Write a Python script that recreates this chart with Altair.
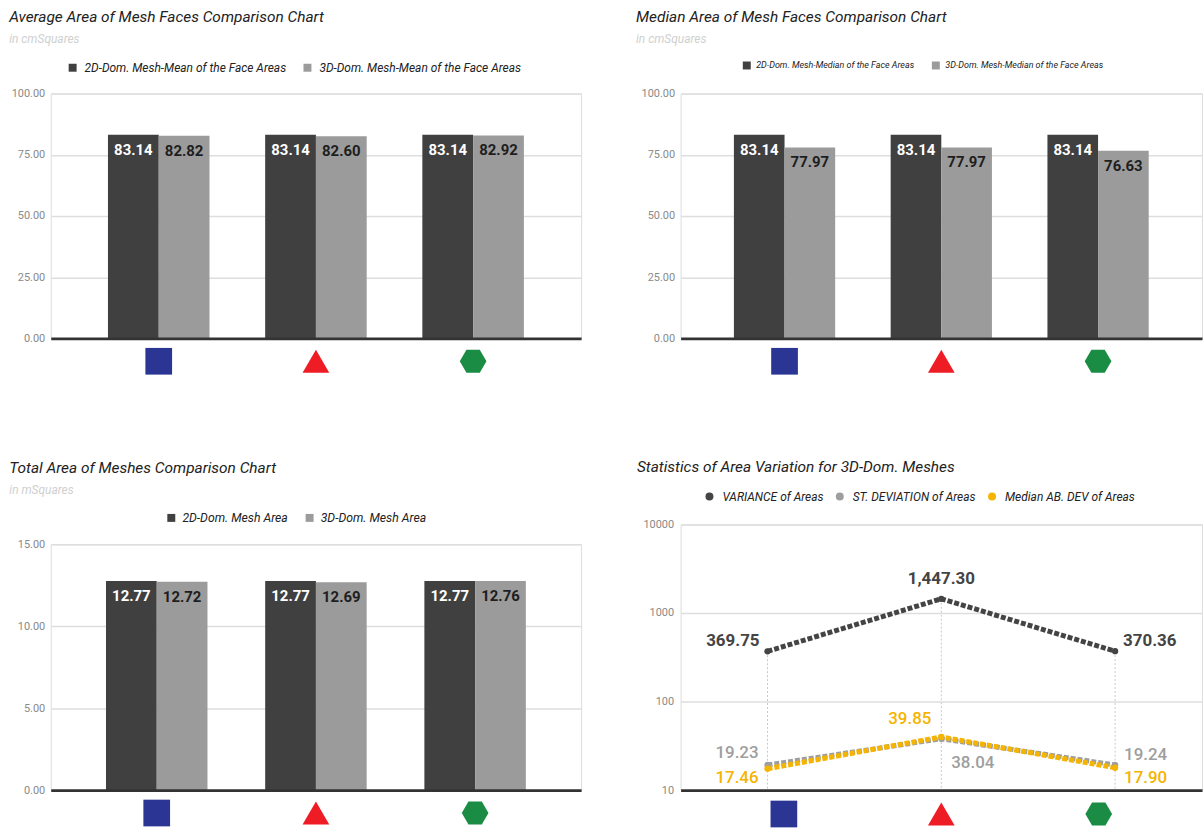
import altair as alt
import pandas as pd

# ---- data -------------------------------------------------------------
meshes = ["Square", "Triangle", "Hexagon"]

mean_series = ["2D-Dom. Mesh-Mean of the Face Areas", "3D-Dom. Mesh-Mean of the Face Areas"]
mean_2d = [83.14, 83.14, 83.14]
mean_3d = [82.82, 82.60, 82.92]

median_series = ["2D-Dom. Mesh-Median of the Face Areas", "3D-Dom. Mesh-Median of the Face Areas"]
median_2d = [83.14, 83.14, 83.14]
median_3d = [77.97, 77.97, 76.63]

area_series = ["2D-Dom. Mesh Area", "3D-Dom. Mesh Area"]
area_2d = [12.77, 12.77, 12.77]
area_3d = [12.72, 12.69, 12.76]

stat_series = ["VARIANCE of Areas", "ST. DEVIATION of Areas", "Median AB. DEV of Areas"]
variance = [369.75, 1447.30, 370.36]
st_dev = [19.23, 38.04, 19.24]
median_ab_dev = [17.46, 39.85, 17.90]

mean_ticks = [0, 25, 50, 75, 100]
area_ticks = [0, 5, 10, 15]
log_ticks = [10, 100, 1000, 10000]

# ---- styling ----------------------------------------------------------
FONT = "Roboto"
BAR_COLORS = ["#404040", "#9b9b9b"]
STAT_COLORS = ["#444444", "#9e9e9e", "#f4b400"]
MESH_COLORS = ["#2b3594", "#ee1c25", "#1b8c44"]
HEXAGON = "M-1,0L-0.5,-0.866L0.5,-0.866L1,0L0.5,0.866L-0.5,0.866Z"
GRID = "#dedede"
LABEL_GREY = "#8a8a8a"


def panel_title(text, subtitle=None, dx=0, offset=17):
    params = dict(
        text=text, anchor="start", frame="bounds", dx=dx, offset=offset,
        font=FONT, fontSize=15.5, fontStyle="italic", fontWeight="normal", color="#222222",
    )
    if subtitle:
        params.update(subtitle=subtitle, subtitleFont=FONT, subtitleFontSize=12,
                      subtitleFontStyle="italic", subtitleColor="#d0d0d0", subtitlePadding=8)
    return alt.TitleParams(**params)


def legend(x, y, size, col_pad, symbol="square", offset=6):
    return alt.Legend(
        title=None, orient="none", legendX=x, legendY=y, direction="horizontal",
        symbolType=symbol, symbolSize=64, symbolStrokeWidth=0, symbolOpacity=1,
        labelFont=FONT, labelFontSize=size, labelFontStyle="italic", labelColor="#222222",
        labelOffset=offset, columnPadding=col_pad, labelLimit=400,
    )


def mesh_markers(x_enc, y_px):
    return alt.Chart(pd.DataFrame({"mesh": meshes})).mark_point(
        filled=True, opacity=1, size=720, strokeWidth=0
    ).encode(
        x=x_enc,
        y=alt.value(y_px),
        shape=alt.Shape("mesh:N", scale=alt.Scale(domain=meshes, range=["square", "triangle-up", HEXAGON]), legend=None),
        fill=alt.Fill("mesh:N", scale=alt.Scale(domain=meshes, range=MESH_COLORS), legend=None),
    )


def bar_panel(title, series, first, second, ticks, width, height, pad_in, pad_out,
              leg_x, leg_y, leg_size, leg_pad, leg_offset):
    df = pd.DataFrame({
        "mesh": meshes * 2,
        "series": [series[0]] * 3 + [series[1]] * 3,
        "value": first + second,
    })
    x_enc = alt.X("mesh:N", sort=meshes,
                  scale=alt.Scale(paddingInner=pad_in, paddingOuter=pad_out),
                  axis=alt.Axis(title=None, labels=False, ticks=False, grid=False,
                                domainColor="#333333", domainWidth=3, zindex=1))
    x_off = alt.XOffset("series:N", sort=series,
                        scale=alt.Scale(domain=series, paddingInner=0, paddingOuter=0))
    y_enc = alt.Y("value:Q", scale=alt.Scale(domain=[ticks[0], ticks[-1]], nice=False),
                  axis=alt.Axis(title=None, values=ticks, format=".2f", ticks=False, domain=False,
                                labelPadding=6, labelFont=FONT, labelFontSize=11, labelColor=LABEL_GREY,
                                gridColor=GRID, gridWidth=1.5))
    base = alt.Chart(df)
    bars = base.mark_bar().encode(
        x=x_enc, xOffset=x_off, y=y_enc,
        color=alt.Color("series:N", sort=series,
                        scale=alt.Scale(domain=series, range=BAR_COLORS),
                        legend=legend(leg_x, leg_y, leg_size, leg_pad, offset=leg_offset)),
    )
    labels = base.mark_text(baseline="middle", dy=15, font=FONT, fontSize=15, fontWeight="bold").encode(
        x=x_enc, xOffset=x_off, y=y_enc,
        text=alt.Text("value:Q", format=".2f"),
        color=alt.condition(alt.datum.series == series[0], alt.value("white"), alt.value("#1e1e1e")),
    )
    markers = mesh_markers(x_enc, height + 23)
    return alt.layer(bars, labels, markers).properties(
        width=width, height=height, title=title
    )


# ---- top left: mean face area ----------------------------------------
mean_chart = bar_panel(
    panel_title("Average Area of Mesh Faces Comparison Chart", "in cmSquares", dx=-2, offset=17),
    mean_series, mean_2d, mean_3d, mean_ticks, 533, 246, 0.354, 0.364,
    16, -32, 12, 15, 6,
)

# ---- top right: median face area -------------------------------------
median_chart = bar_panel(
    panel_title("Median Area of Mesh Faces Comparison Chart", "in cmSquares", dx=-5, offset=16),
    median_series, median_2d, median_3d, mean_ticks, 524, 246, 0.354, 0.34,
    62, -33, 9, 17, 5,
)

# ---- bottom left: total mesh area ------------------------------------
area_chart = bar_panel(
    panel_title("Total Area of Meshes Comparison Chart", "in mSquares", dx=-8, offset=16),
    area_series, area_2d, area_3d, area_ticks, 533, 247, 0.3625, 0.347,
    115, -33, 12.3, 15, 5,
)

# ---- bottom right: variation statistics (log scale) ------------------
stats = pd.DataFrame({
    "mesh": meshes * 3,
    "series": [stat_series[0]] * 3 + [stat_series[1]] * 3 + [stat_series[2]] * 3,
    "value": variance + st_dev + median_ab_dev,
})
var_df = pd.DataFrame({"mesh": meshes, "value": variance})

LOG_W, LOG_H = 524, 267


def x_point(show_axis=False):
    axis = alt.Axis(title=None, labels=False, ticks=False, grid=False,
                    domainColor="#333333", domainWidth=3, zindex=1) if show_axis else None
    return alt.X("mesh:N", sort=meshes, scale=alt.Scale(type="point", domain=meshes, padding=0.5), axis=axis)


y_log = alt.Y("value:Q", scale=alt.Scale(type="log", domain=[10, 10000], nice=False),
              axis=alt.Axis(title=None, values=log_ticks, format="d", ticks=False, domain=False,
                            labelPadding=7, labelFont=FONT, labelFontSize=11, labelColor=LABEL_GREY,
                            gridColor=GRID, gridWidth=1.5))
stat_color = alt.Color("series:N", sort=stat_series,
                       scale=alt.Scale(domain=stat_series, range=STAT_COLORS),
                       legend=legend(23, -34, 12, 10, symbol="circle", offset=7))

drops = alt.Chart(var_df).mark_rule(color="#c8c8c8", strokeDash=[2, 2], strokeWidth=1).encode(
    x=x_point(True), y=y_log, y2=alt.datum(10)
)
lines = alt.Chart(stats).mark_line(strokeWidth=5, strokeDash=[5, 2]).encode(
    x=x_point(), y=y_log, color=stat_color, detail="series:N"
)
dots = alt.Chart(stats).mark_circle(size=40, opacity=1).encode(
    x=x_point(), y=y_log, color=stat_color
)


def stat_label(series_idx, mesh, align, dx, dy, size=17, weight=500):
    name = stat_series[series_idx]
    return alt.Chart(stats).transform_filter(
        (alt.datum.series == name) & (alt.datum.mesh == mesh)
    ).mark_text(align=align, baseline="middle", dx=dx, dy=dy, font=FONT,
                fontSize=size, fontWeight=weight, color=STAT_COLORS[series_idx]).encode(
        x=x_point(), y=y_log, text=alt.Text("value:Q", format=",.2f")
    )


stat_labels = [
    stat_label(0, "Square", "right", -8, -10, weight="bold"),
    stat_label(0, "Triangle", "center", 0, -20, weight="bold"),
    stat_label(0, "Hexagon", "left", 8, -10, weight="bold"),
    stat_label(1, "Square", "right", -9, -12),
    stat_label(1, "Triangle", "left", 10, 24),
    stat_label(1, "Hexagon", "left", 9, -10),
    stat_label(2, "Square", "right", -9, 9),
    stat_label(2, "Triangle", "right", -10, -18),
    stat_label(2, "Hexagon", "left", 9, 10),
]

# the mesh icons sit on their own, slightly narrower spacing
x_marker = alt.X("mesh:N", sort=meshes, scale=alt.Scale(type="point", domain=meshes, padding=0.656), axis=None)
log_markers = mesh_markers(x_marker, LOG_H + 24)

stats_chart = alt.layer(drops, lines, dots, *stat_labels, log_markers).resolve_scale(
    x="independent"
).properties(
    width=LOG_W, height=LOG_H,
    title=panel_title("Statistics of Area Variation for 3D-Dom. Meshes", dx=-6, offset=15),
)

INDEP = dict(color="independent", xOffset="independent", shape="independent", fill="independent")

left_col = alt.vconcat(mean_chart, area_chart, spacing=86).resolve_scale(**INDEP).resolve_legend(color="independent")
right_col = alt.vconcat(median_chart, stats_chart, spacing=85).resolve_scale(**INDEP).resolve_legend(color="independent")

chart = alt.hconcat(left_col, right_col, spacing=53).resolve_scale(**INDEP).resolve_legend(
    color="independent"
).properties(
    padding={"left": 8, "top": 8, "right": 0, "bottom": 0}
).configure_view(stroke=None).configure(font=FONT, background="white")

chart.save("out.html", embed_options={"renderer": "svg", "actions": False})
